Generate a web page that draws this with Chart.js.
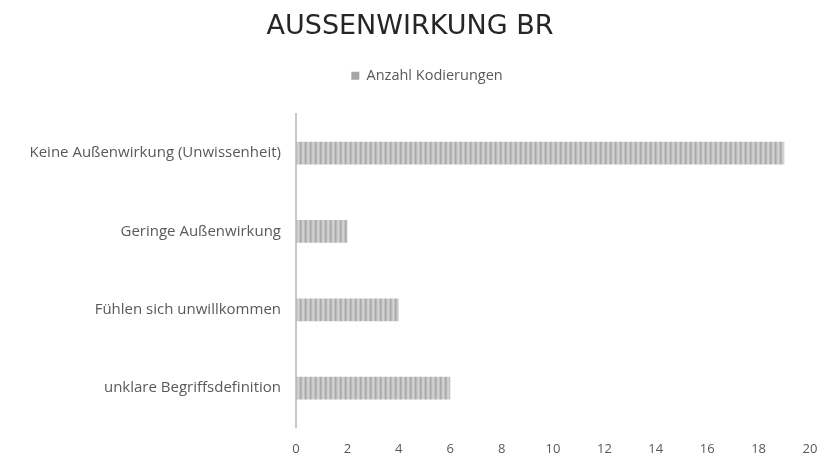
<!DOCTYPE html>
<html>
<head>
<meta charset="utf-8">
<script src="https://cdn.jsdelivr.net/npm/chart.js@4"></script>
<style>
  html, body { margin: 0; padding: 0; background: #fff; }
  #wrap { width: 836px; height: 456px; }
</style>
</head>
<body>
<div id="wrap"><canvas id="myChart" width="836" height="456"></canvas></div>
<script>
const categories = [
  'Keine Außenwirkung (Unwissenheit)',
  'Geringe Außenwirkung',
  'Fühlen sich unwillkommen',
  'unklare Begriffsdefinition',
];
const counts = [19, 2, 4, 6];
const seriesLabel = 'Anzahl Kodierungen';
const xMin = 0;
const xMax = 20;
const xStep = 2;

// vertical stripe fill like the original bars
function stripes() {
  const c = document.createElement('canvas');
  c.width = 5;
  c.height = 1;
  const g = c.getContext('2d');
  ['#a9a9a9', '#b9b9b9', '#cbcbcb', '#d2d2d2', '#c2c2c2'].forEach((col, i) => {
    g.fillStyle = col;
    g.fillRect(i, 0, 1, 1);
  });
  return g.createPattern(c, 'repeat');
}

// extra room under the legend, and nudge it a bit to the right
const legendGap = {
  id: 'legendGap',
  beforeInit(chart) {
    const fit = chart.legend.fit;
    chart.legend.fit = function () {
      fit.bind(chart.legend)();
      this.height += 21;
    };
  },
  afterLayout(chart) {
    chart.legend.left += 17;
    chart.legend.right += 17;
  },
};

const ctx = document.getElementById('myChart').getContext('2d');
const chart = new Chart(ctx, {
  type: 'bar',
  data: {
    labels: categories,
    datasets: [
      {
        label: seriesLabel,
        data: counts,
        backgroundColor: stripes(),
        borderWidth: 0,
        categoryPercentage: 1,
        barPercentage: 0.29,
      },
    ],
  },
  options: {
    indexAxis: 'y',
    responsive: false,
    animation: false,
    layout: { padding: { left: 10, right: 26, top: 0, bottom: -15 } },
    plugins: {
      title: {
        display: true,
        text: 'AUSSENWIRKUNG BR',
        color: '#262626',
        font: { family: 'DejaVu Sans', size: 27, weight: 'normal' },
        padding: { top: 11, bottom: 15 },
      },
      legend: {
        display: true,
        position: 'top',
        labels: {
          boxWidth: 8,
          boxHeight: 8,
          padding: 10,
          color: '#595959',
          font: { family: 'Open Sans', size: 14.5 },
          generateLabels(c) {
            return Chart.defaults.plugins.legend.labels.generateLabels(c).map((l) => ({
              ...l,
              fillStyle: '#a6a6a6',
              strokeStyle: '#a6a6a6',
              lineWidth: 0,
            }));
          },
        },
      },
      tooltip: { enabled: false },
    },
    scales: {
      x: {
        min: xMin,
        max: xMax,
        grid: { display: false, drawTicks: false },
        border: { display: false },
        ticks: {
          stepSize: xStep,
          padding: 14,
          color: '#595959',
          font: { family: 'Open Sans', size: 13 },
        },
      },
      y: {
        grid: { display: false, drawTicks: false },
        border: { display: true, color: '#c8c8c8', width: 2 },
        ticks: {
          padding: 15,
          color: '#595959',
          font: { family: 'Open Sans', size: 15 },
        },
        afterFit(scale) {
          scale.width = 286;
        },
      },
    },
  },
  plugins: [legendGap],
});
</script>
</body>
</html>
